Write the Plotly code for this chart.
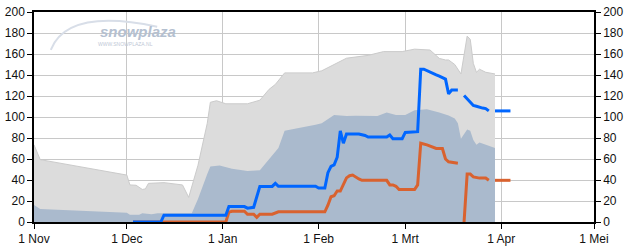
import plotly.graph_objects as go

# ---- data ----
gray_dates = ["2010-11-01", "2010-11-03", "2010-12-01", "2010-12-02", "2010-12-04", "2010-12-06",
              "2010-12-07", "2010-12-08", "2010-12-13", "2010-12-19", "2010-12-21", "2010-12-24",
              "2010-12-27", "2010-12-28", "2010-12-30", "2011-01-02", "2011-01-09", "2011-01-13",
              "2011-01-16", "2011-01-18", "2011-01-21", "2011-01-30", "2011-02-02", "2011-02-06",
              "2011-02-10", "2011-02-17", "2011-02-22", "2011-02-28", "2011-03-04", "2011-03-09",
              "2011-03-12", "2011-03-14", "2011-03-15", "2011-03-17", "2011-03-19", "2011-03-21",
              "2011-03-22", "2011-03-23", "2011-03-24", "2011-03-25", "2011-03-27", "2011-03-30"]
gray_vals = [73.5, 59.4, 44.7, 35.3, 35, 31, 31.5, 36.8, 37.5, 35.3, 23.5, 54,
             94, 114, 115.5, 112.6, 112.6, 116, 126.4, 131, 142, 142, 144, 150,
             156, 158.7, 162.3, 162.3, 164.6, 163.8, 155.8, 154.3, 154.3, 150, 141, 177,
             174, 151, 142.6, 145.5, 142.6, 141]

bg_dates = ["2010-11-01", "2010-11-03", "2010-12-01", "2010-12-02", "2010-12-05", "2010-12-06",
            "2010-12-09", "2010-12-11", "2010-12-22", "2010-12-24", "2010-12-27", "2010-12-28",
            "2010-12-31", "2011-01-04", "2011-01-09", "2011-01-13", "2011-01-19", "2011-01-21",
            "2011-01-31", "2011-02-02", "2011-02-06", "2011-02-10", "2011-02-13", "2011-02-20",
            "2011-02-23", "2011-02-26", "2011-03-01", "2011-03-04", "2011-03-08", "2011-03-12",
            "2011-03-15", "2011-03-17", "2011-03-18", "2011-03-19", "2011-03-21", "2011-03-22",
            "2011-03-23", "2011-03-24", "2011-03-25", "2011-03-27", "2011-03-30"]
bg_vals = [16.2, 12.3, 8.8, 6.8, 6.8, 8.3, 7.4, 8.3, 8.3, 22, 45.6, 52.9,
           53.8, 50.6, 48.5, 49.4, 70.5, 86.8, 92.6, 94, 102, 100.9, 101.2, 101,
           104.4, 102, 102, 106.4, 107.3, 104.4, 101.4, 98.5, 94, 79.4, 88, 86.8,
           78, 73.5, 75.8, 73.5, 70.5]

blue_dates = ["2010-12-03", "2010-12-12", "2010-12-13", "2011-01-02", "2011-01-03", "2011-01-08",
              "2011-01-09", "2011-01-11", "2011-01-13", "2011-01-17", "2011-01-18", "2011-01-19",
              "2011-01-31", "2011-02-01", "2011-02-03", "2011-02-04", "2011-02-05", "2011-02-06",
              "2011-02-07", "2011-02-08", "2011-02-09", "2011-02-10", "2011-02-14", "2011-02-16",
              "2011-02-17", "2011-02-23", "2011-02-24", "2011-02-25", "2011-02-28", "2011-03-01",
              "2011-03-05", "2011-03-06", "2011-03-07", "2011-03-09", "2011-03-10", "2011-03-11",
              "2011-03-12", "2011-03-13", "2011-03-14", "2011-03-15", "2011-03-16", "2011-03-18",
              "2011-03-19", "2011-03-20", "2011-03-21", "2011-03-22", "2011-03-23", "2011-03-24",
              "2011-03-25", "2011-03-26", "2011-03-27", "2011-03-28", "2011-03-29", "2011-03-30",
              "2011-04-04"]
blue_vals = [0, 0, 6.5, 6.5, 14.7, 14.7,
             13.2, 14, 33.9, 33.9, 36.8, 34,
             34, 32.4, 32.4, 47, 53, 54.4,
             61.7, 86.8, 75, 83.8, 83.8, 82.4,
             80.9, 80.9, 82.9, 79.4, 79.4, 85.3,
             86, 145.5, 145.5, 142.5, 141.5, 140.2,
             139, 137.3, 136.1, 122, 125.6, 125.6,
             None, 120.5, 117.5, 114.7, 111, 110.2,
             109, 108.5, 108, 105.8, None, 105.8,
             105.8]

orange_dates = ["2010-12-03", "2011-01-02", "2011-01-03", "2011-01-04", "2011-01-08", "2011-01-09",
                "2011-01-11", "2011-01-12", "2011-01-13", "2011-01-17", "2011-01-19", "2011-02-03",
                "2011-02-04", "2011-02-05", "2011-02-06", "2011-02-07", "2011-02-08", "2011-02-09",
                "2011-02-10", "2011-02-11", "2011-02-12", "2011-02-14", "2011-02-15", "2011-02-23",
                "2011-02-24", "2011-02-25", "2011-02-26", "2011-02-27", "2011-03-04", "2011-03-05",
                "2011-03-06", "2011-03-08", "2011-03-10", "2011-03-11", "2011-03-13", "2011-03-14",
                "2011-03-15", "2011-03-18", "2011-03-19", "2011-03-20", "2011-03-21", "2011-03-22",
                "2011-03-23", "2011-03-25", "2011-03-27", "2011-03-28", "2011-03-29", "2011-03-30",
                "2011-04-04"]
orange_vals = [0, 0, 9.4, 10.3, 10.3, 7.4,
               7.4, 4.4, 7.4, 7.4, 9.7, 9.7,
               16, 24, 25, 29.5, 29.5, 35.3,
               42, 44.1, 44.7, 41, 39.7, 39.7,
               35.3, 35.3, 34, 30.9, 30.9, 35.3,
               75, 73.5, 71.2, 70, 70, 60,
               57.3, 55.9, None, 0, 45.6, 45.6,
               43, 41.8, 41.8, 39.7, None, 39.7,
               39.7]

tick_dates = ["2010-11-01", "2010-12-01", "2011-01-01", "2011-02-01", "2011-03-01", "2011-04-01", "2011-05-01"]
tick_text = ["1 Nov", "1 Dec", "1 Jan", "1 Feb", "1 Mrt", "1 Apr", "1 Mei"]
y_ticks = [0, 20, 40, 60, 80, 100, 120, 140, 160, 180, 200]

# ---- figure ----
fig = go.Figure()
fig.add_trace(go.Scatter(x=gray_dates, y=gray_vals, mode="lines", fill="tozeroy",
                         fillcolor="#dcdcdc", line=dict(color="#cbcbcb", width=1),
                         hoverinfo="skip", showlegend=False))
fig.add_trace(go.Scatter(x=bg_dates, y=bg_vals, mode="lines", fill="tozeroy",
                         fillcolor="#aabacd", line=dict(color="#aabacd", width=0),
                         hoverinfo="skip", showlegend=False))
fig.add_trace(go.Scatter(x=orange_dates, y=orange_vals, mode="lines",
                         line=dict(color="#d9622f", width=3), connectgaps=False,
                         showlegend=False))
fig.add_trace(go.Scatter(x=blue_dates, y=blue_vals, mode="lines",
                         line=dict(color="#0066ff", width=3), connectgaps=False,
                         showlegend=False))
# invisible trace to activate the right-hand axis
fig.add_trace(go.Scatter(x=[tick_dates[0]], y=[0], yaxis="y2", mode="markers",
                         marker=dict(opacity=0), hoverinfo="skip", showlegend=False))

font = dict(family="Arial, Liberation Sans, sans-serif", size=12, color="#111111")

fig.update_layout(
    width=628, height=251,
    margin=dict(l=25, r=25, t=5, b=19),
    paper_bgcolor="white", plot_bgcolor="white",
    font=font,
    xaxis=dict(range=[tick_dates[0], tick_dates[-1]], tickvals=tick_dates, ticktext=tick_text,
               showgrid=True, gridcolor="#c8c8c8", gridwidth=1,
               showline=True, linecolor="black", linewidth=1.5, mirror=True,
               ticks="outside", ticklen=5, tickcolor="black", tickfont=font,
               zeroline=False),
    yaxis=dict(range=[0, 200], tickvals=y_ticks, showgrid=True, gridcolor="#c8c8c8",
               gridwidth=1, showline=True, linecolor="black", linewidth=1.5,
               ticks="outside", ticklen=5, tickcolor="black", tickfont=font,
               zeroline=False, fixedrange=True),
    yaxis2=dict(range=[0, 200], tickvals=y_ticks, overlaying="y", side="right",
                showgrid=False, showline=True, linecolor="black", linewidth=1.5,
                ticks="outside", ticklen=5, tickcolor="black", tickfont=font,
                zeroline=False),
)

# watermark logo
fig.add_annotation(text="<b><i>snowplaza</i></b>", xref="paper", yref="paper",
                   x=0.115, y=0.955, showarrow=False,
                   font=dict(family="Arial, Liberation Sans, sans-serif", size=15, color="#b4c0d0"))
fig.add_annotation(text="WWW.SNOWPLAZA.NL", xref="paper", yref="paper",
                   x=0.11, y=0.87, showarrow=False,
                   font=dict(family="Arial, Liberation Sans, sans-serif", size=5, color="#c0c8d6"))
fig.add_shape(type="path", xref="paper", yref="paper",
              path="M 0.03,0.82 Q 0.06,1.02 0.22,0.93",
              line=dict(color="#d8dee8", width=2))

fig.write_html("out.html")
